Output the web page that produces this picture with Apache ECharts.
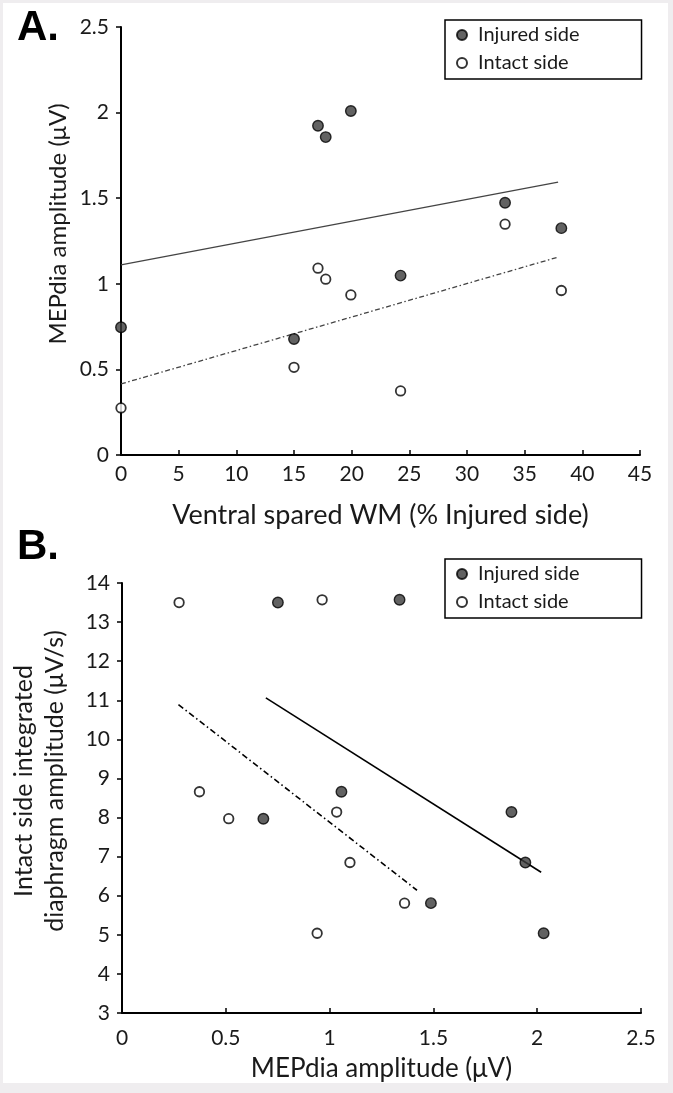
<!DOCTYPE html>
<html><head><meta charset="utf-8">
<script src="https://cdn.jsdelivr.net/npm/echarts@6/dist/echarts.min.js"></script>
<style>html,body{margin:0;padding:0;background:#efedef;}#c{width:673px;height:1093px;}</style>
</head><body><div id="c"></div>
<script>
// ---- Panel A data ----
const seriesNames = ['Injured side', 'Intact side'];
const xA_injured = [0, 15, 17.08, 17.75, 19.93, 24.24, 33.3, 38.18];
const yA_injured = [0.746, 0.678, 1.923, 1.857, 2.009, 1.048, 1.473, 1.325];
const xA_intact  = [0, 15, 17.08, 17.75, 19.93, 24.24, 33.3, 38.18];
const yA_intact  = [0.275, 0.512, 1.091, 1.027, 0.935, 0.374, 1.348, 0.961];
const fitA_injured_x = [0, 37.9];
const fitA_injured_y = [1.111, 1.594];
const fitA_intact_x  = [0, 37.8];
const fitA_intact_y  = [0.415, 1.154];
const axisA_x = {min: 0, max: 45, interval: 5};
const axisA_y = {min: 0, max: 2.5, interval: 0.5};
// ---- Panel B data ----
const xB_injured = [0.751, 1.337, 1.057, 0.681, 1.876, 1.943, 1.488, 2.031];
const yB_injured = [13.50, 13.57, 8.66, 7.97, 8.14, 6.85, 5.81, 5.04];
const xB_intact  = [0.275, 0.964, 0.373, 0.514, 1.034, 1.098, 1.361, 0.940];
const yB_intact  = [13.50, 13.57, 8.66, 7.97, 8.14, 6.85, 5.81, 5.04];
const fitB_injured_x = [0.693, 2.019];
const fitB_injured_y = [11.06, 6.60];
const fitB_intact_x  = [0.272, 1.421];
const fitB_intact_y  = [10.89, 6.14];
const axisB_x = {min: 0, max: 2.5, interval: 0.5};
const axisB_y = {min: 3, max: 14, interval: 1};

const FONT = 'Lato';
const zip = (a, b) => a.map((v, i) => [v, b[i]]);

function xAxisCfg(idx, ax, name, gap, margin, nameSize) {
  return {gridIndex: idx, type: 'value', min: ax.min, max: ax.max, interval: ax.interval,
    name: name, nameLocation: 'middle', nameGap: gap,
    nameTextStyle: {fontFamily: FONT, fontSize: nameSize, color: '#1a1a1a'},
    axisLine: {show: true, onZero: false, lineStyle: {color: '#000', width: 2}},
    axisTick: {show: true, inside: true, length: 5, lineStyle: {color: '#000', width: 1.5}},
    axisLabel: {fontFamily: FONT, fontSize: 21, color: '#1a1a1a', margin: margin},
    splitLine: {show: false}};
}
function yAxisCfg(idx, ax) {
  return {gridIndex: idx, type: 'value', min: ax.min, max: ax.max, interval: ax.interval,
    axisLine: {show: true, onZero: false, lineStyle: {color: '#000', width: 2}},
    axisTick: {show: true, inside: false, length: 5, lineStyle: {color: '#000', width: 1.5}},
    axisLabel: {fontFamily: FONT, fontSize: 21, color: '#1a1a1a', margin: 12},
    splitLine: {show: false}};
}
const filled = {symbol: 'circle', symbolSize: 10.5, itemStyle: {color: '#3b3b3b', borderColor: '#000', borderWidth: 1.4}};
const open = {symbol: 'circle', symbolSize: 9.5, itemStyle: {color: '#fff', borderColor: '#000', borderWidth: 1.8}};

function scatter(name, idx, data, st) {
  return Object.assign({type: 'scatter', name: name, xAxisIndex: idx, yAxisIndex: idx, data: data, clip: false, z: 3}, st);
}
function fit(idx, data, lineStyle) {
  return {type: 'line', xAxisIndex: idx, yAxisIndex: idx, data: data, symbol: 'none', silent: true,
    lineStyle: lineStyle, z: 2};
}
function legendCfg(top) {
  return {data: seriesNames, orient: 'vertical', left: 445, top: top,
    backgroundColor: '#fff', borderColor: '#000', borderWidth: 1.5, borderRadius: 0,
    padding: [4, 62, 5, 11], itemGap: 6, itemWidth: 10, itemHeight: 10,
    textStyle: {fontFamily: FONT, fontSize: 20, color: '#1a1a1a', lineHeight: 22, padding: [0, 0, 0, 6]}};
}

const chart = echarts.init(document.getElementById('c'), null, {renderer: 'canvas'});
chart.setOption({
  backgroundColor: '#efedef',
  animation: false,
  graphic: [
    {type: 'rect', z: -10, shape: {x: 3, y: 3, width: 665, height: 1080}, style: {fill: '#fff'}},
    {type: 'text', x: 17, y: 28, style: {text: 'A.', fontFamily: 'Liberation Sans', fontWeight: 'bold', fontSize: 42, fill: '#000', textVerticalAlign: 'middle'}},
    {type: 'text', x: 17, y: 547, style: {text: 'B.', fontFamily: 'Liberation Sans', fontWeight: 'bold', fontSize: 42, fill: '#000', textVerticalAlign: 'middle'}},
    {type: 'text', x: 58, y: 224, rotation: Math.PI / 2, style: {text: 'MEPdia amplitude (\u03bcV)', fontFamily: FONT, fontSize: 24, fill: '#1a1a1a', textAlign: 'center', textVerticalAlign: 'middle'}},
    {type: 'text', x: 24, y: 781, rotation: Math.PI / 2, style: {text: 'Intact side integrated', fontFamily: FONT, fontSize: 25, fill: '#1a1a1a', textAlign: 'center', textVerticalAlign: 'middle'}},
    {type: 'text', x: 55, y: 781, rotation: Math.PI / 2, style: {text: 'diaphragm amplitude (\u03bcV/s)', fontFamily: FONT, fontSize: 25, fill: '#1a1a1a', textAlign: 'center', textVerticalAlign: 'middle'}}
  ],
  legend: [legendCfg(20), legendCfg(559)],
  grid: [
    {left: 121, top: 27, width: 519, height: 428},
    {left: 122, top: 583, width: 519, height: 430}
  ],
  xAxis: [
    xAxisCfg(0, axisA_x, 'Ventral spared WM (% Injured side)', 47, 9, 27),
    xAxisCfg(1, axisB_x, 'MEPdia amplitude (\u03bcV)', 43, 15, 26)
  ],
  yAxis: [yAxisCfg(0, axisA_y), yAxisCfg(1, axisB_y)],
  series: [
    fit(0, zip(fitA_injured_x, fitA_injured_y), {color: '#444', width: 1.3, type: 'solid'}),
    fit(0, zip(fitA_intact_x, fitA_intact_y), {color: '#444', width: 1.3, type: [5, 2.5, 1.5, 2.5]}),
    scatter(seriesNames[0], 0, zip(xA_injured, yA_injured), filled),
    scatter(seriesNames[1], 0, zip(xA_intact, yA_intact), open),
    fit(1, zip(fitB_injured_x, fitB_injured_y), {color: '#000', width: 1.6, type: 'solid'}),
    fit(1, zip(fitB_intact_x, fitB_intact_y), {color: '#000', width: 1.6, type: [6, 3, 1.5, 3]}),
    scatter(seriesNames[0], 1, zip(xB_injured, yB_injured), filled),
    scatter(seriesNames[1], 1, zip(xB_intact, yB_intact), open)
  ]
});
</script></body></html>
